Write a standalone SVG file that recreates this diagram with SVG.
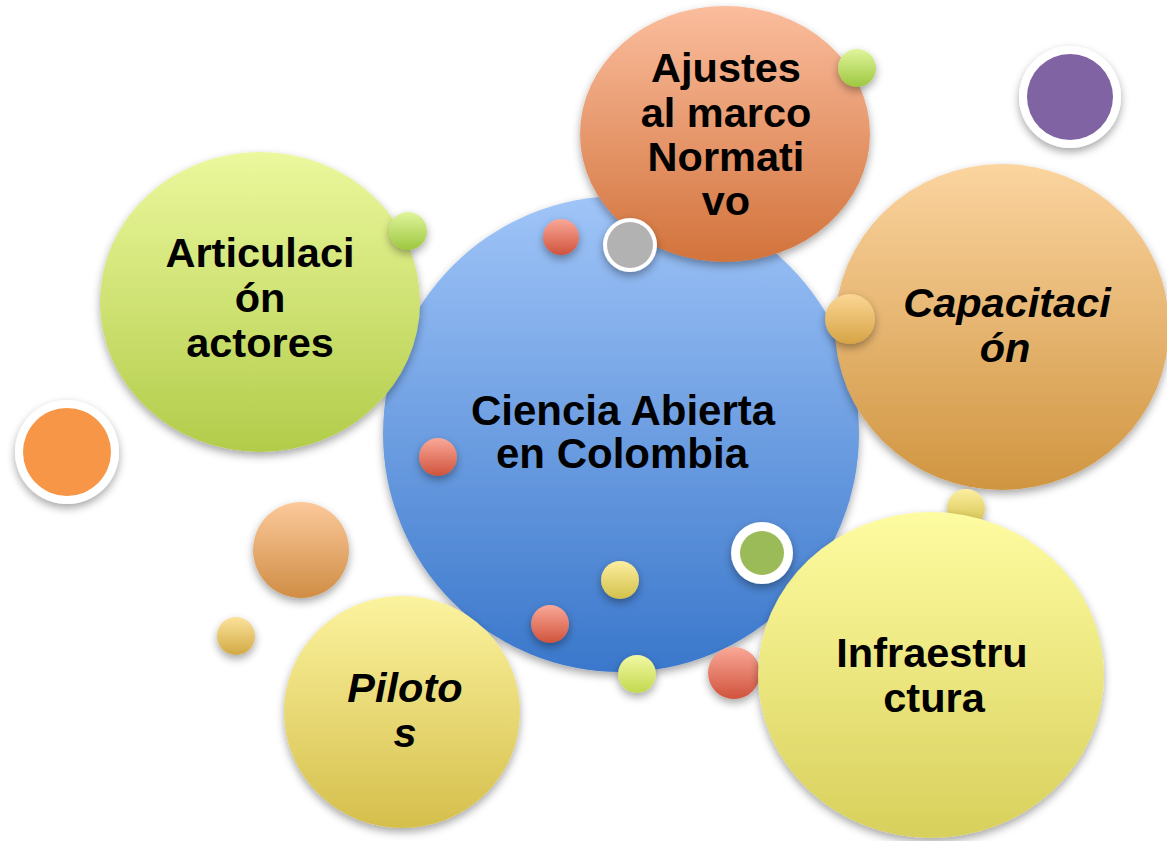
<svg xmlns="http://www.w3.org/2000/svg" width="1167" height="841" viewBox="0 0 1167 841">
<defs>
<filter id="sh" x="-20%" y="-20%" width="140%" height="150%">
<feDropShadow dx="0" dy="4" stdDeviation="4" flood-color="#000" flood-opacity="0.35"/>
</filter>
<linearGradient id="gBlue" x1="0" y1="0" x2="0" y2="1"><stop offset="0" stop-color="#A0C5F8"/><stop offset="1" stop-color="#3A77CB"/></linearGradient>
<linearGradient id="gSalmon" x1="0" y1="0" x2="0" y2="1"><stop offset="0" stop-color="#FBBD9D"/><stop offset="1" stop-color="#D2733C"/></linearGradient>
<linearGradient id="gLime" x1="0" y1="0" x2="0" y2="1"><stop offset="0" stop-color="#ECF89D"/><stop offset="1" stop-color="#B2CC4A"/></linearGradient>
<linearGradient id="gTan" x1="0" y1="0" x2="0" y2="1"><stop offset="0" stop-color="#FBD49F"/><stop offset="1" stop-color="#D09541"/></linearGradient>
<linearGradient id="gYellow" x1="0" y1="0" x2="0" y2="1"><stop offset="0" stop-color="#FEFCA1"/><stop offset="1" stop-color="#D8D05C"/></linearGradient>
<linearGradient id="gGold" x1="0" y1="0" x2="0" y2="1"><stop offset="0" stop-color="#FCF39F"/><stop offset="1" stop-color="#D5BF4C"/></linearGradient>
<linearGradient id="gSGreen" x1="0" y1="0" x2="0" y2="1"><stop offset="0" stop-color="#E0F59C"/><stop offset="1" stop-color="#9DC73F"/></linearGradient>
<linearGradient id="gSRed" x1="0" y1="0" x2="0" y2="1"><stop offset="0" stop-color="#FAA898"/><stop offset="1" stop-color="#D0533C"/></linearGradient>
<linearGradient id="gSYellow" x1="0" y1="0" x2="0" y2="1"><stop offset="0" stop-color="#FCEFA0"/><stop offset="1" stop-color="#D3C04A"/></linearGradient>
<linearGradient id="gSTan" x1="0" y1="0" x2="0" y2="1"><stop offset="0" stop-color="#FBD694"/><stop offset="1" stop-color="#D6A445"/></linearGradient>
<linearGradient id="gPeach" x1="0" y1="0" x2="0" y2="1"><stop offset="0" stop-color="#FCC99B"/><stop offset="1" stop-color="#D08D45"/></linearGradient>
<linearGradient id="gSGold" x1="0" y1="0" x2="0" y2="1"><stop offset="0" stop-color="#FCE29C"/><stop offset="1" stop-color="#D2AA44"/></linearGradient>
<linearGradient id="gSLime" x1="0" y1="0" x2="0" y2="1"><stop offset="0" stop-color="#F2F9A3"/><stop offset="1" stop-color="#C3D84E"/></linearGradient>
</defs>
<style>
.t{font-family:"Liberation Sans",Arial,sans-serif;font-weight:bold;font-size:41.5px;fill:#000;text-anchor:middle}
.c{font-size:42px}
.i{font-style:italic}
.ring{fill:#fff}
</style>
<rect width="1167" height="841" fill="#fff"/>

<g id="node-ciencia" filter="url(#sh)">
<circle cx="621" cy="434" r="238" fill="url(#gBlue)"/>
</g>
<g id="node-ajustes" filter="url(#sh)">
<ellipse cx="725" cy="134" rx="145" ry="128" fill="url(#gSalmon)"/>
</g>
<g id="node-articulacion" filter="url(#sh)">
<ellipse cx="260" cy="302" rx="160" ry="150" fill="url(#gLime)"/>
</g>
<g id="node-capacitacion" filter="url(#sh)">
<ellipse cx="1002" cy="327" rx="167" ry="163" fill="url(#gTan)"/>
</g>
<g id="node-pilotos" filter="url(#sh)">
<ellipse cx="402" cy="712" rx="118" ry="116" fill="url(#gGold)"/>
</g>
<g id="dot-yellow-right" filter="url(#sh)">
<circle cx="966" cy="508" r="19" fill="url(#gSYellow)"/>
</g>
<g id="dot-red-bottom" filter="url(#sh)">
<circle cx="734" cy="673" r="26" fill="url(#gSRed)"/>
</g>
<g id="node-infraestructura" filter="url(#sh)">
<ellipse cx="931" cy="675" rx="173" ry="163" fill="url(#gYellow)"/>
</g>

<g id="dots" filter="url(#sh)">
<circle cx="857" cy="68" r="19" fill="url(#gSGreen)"/>
<circle cx="408" cy="231" r="19" fill="url(#gSGreen)"/>
<circle cx="561" cy="237" r="18" fill="url(#gSRed)"/>
<circle cx="850" cy="319" r="25" fill="url(#gSTan)"/>
<circle cx="438" cy="457" r="19" fill="url(#gSRed)"/>
<circle cx="301" cy="550" r="48" fill="url(#gPeach)"/>
<circle cx="236" cy="636" r="19" fill="url(#gSGold)"/>
<circle cx="620" cy="580" r="19" fill="url(#gSYellow)"/>
<circle cx="550" cy="624" r="19" fill="url(#gSRed)"/>
<circle cx="637" cy="674" r="19" fill="url(#gSLime)"/>
</g>
<g id="ring-purple" filter="url(#sh)">
<circle cx="1070" cy="97" r="51" class="ring"/>
<circle cx="1070" cy="97" r="43" fill="#8064A2"/>
</g>
<g id="ring-gray" filter="url(#sh)">
<circle cx="630" cy="245" r="27" class="ring"/>
<circle cx="630" cy="245" r="23" fill="#B2B2B2"/>
</g>
<g id="ring-orange" filter="url(#sh)">
<circle cx="67" cy="452" r="52" class="ring"/>
<circle cx="67" cy="452" r="44" fill="#F79646"/>
</g>
<g id="ring-green" filter="url(#sh)">
<circle cx="762" cy="553" r="31" class="ring"/>
<circle cx="762" cy="553" r="22" fill="#9BBB59"/>
</g>

<g id="labels">
<text class="t c" x="623" y="425">Ciencia Abierta</text>
<text class="t c" x="622" y="468">en Colombia</text>
<text class="t" x="726" y="82">Ajustes</text>
<text class="t" x="726" y="127">al marco</text>
<text class="t" x="726" y="171">Normati</text>
<text class="t" x="726" y="215">vo</text>
<text class="t" x="260" y="267">Articulaci</text>
<text class="t" x="260" y="312">ón</text>
<text class="t" x="260" y="357">actores</text>
<text class="t i" x="1007" y="317">Capacitaci</text>
<text class="t i" x="1005" y="362">ón</text>
<text class="t i" x="405" y="702">Piloto</text>
<text class="t i" x="405" y="747">s</text>
<text class="t" x="932" y="667">Infraestru</text>
<text class="t" x="934" y="712">ctura</text>
</g>
</svg>
